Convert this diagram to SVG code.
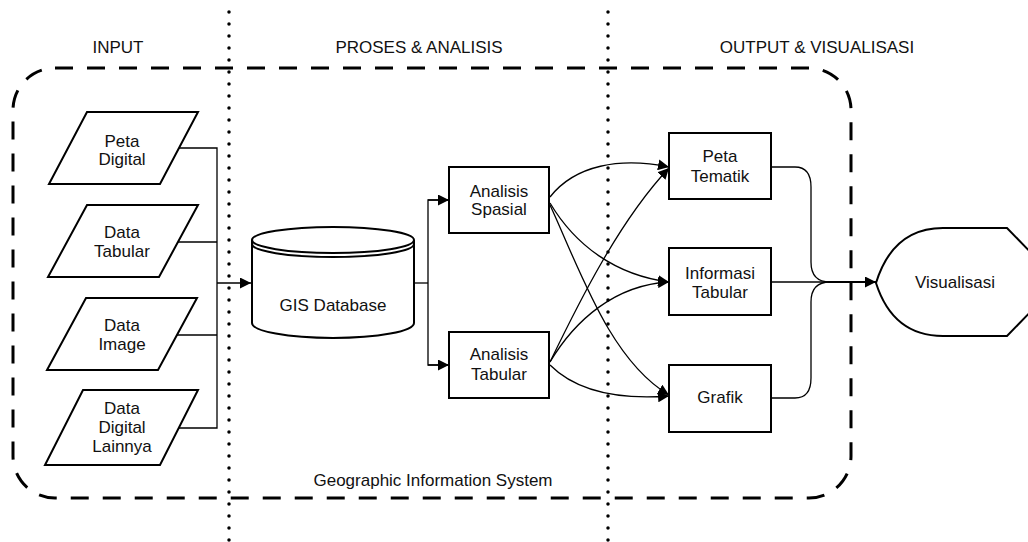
<svg xmlns="http://www.w3.org/2000/svg" width="1028" height="542" viewBox="0 0 1028 542">
<style>
text{font-family:"Liberation Sans",Arial,sans-serif;font-size:17px;fill:#111;text-anchor:middle}
.shape{fill:#fff;stroke:#000;stroke-width:2}
.conn{fill:none;stroke:#000;stroke-width:1.3}
.dots{stroke:#000;stroke-width:3.5;stroke-linecap:round;stroke-dasharray:0 12}
.dash{fill:none;stroke:#000;stroke-width:3;stroke-dasharray:18 14}
</style>
<defs>
<marker id="arr" viewBox="0 0 10 10" refX="10" refY="5" markerWidth="11" markerHeight="11" markerUnits="userSpaceOnUse" orient="auto">
<path d="M0,0 L10,5 L0,10 Z" fill="#000"/>
</marker>
</defs>
<rect fill="#fff" x="0" y="0" width="1028" height="542"/>
<g id="frame">
<rect class="dash" x="13" y="68" width="838" height="430" rx="42" ry="42"/>
<line class="dots" x1="229" y1="12" x2="229" y2="542"/>
<line class="dots" x1="608" y1="12" x2="608" y2="542"/>
<text x="118" y="53">INPUT</text>
<text x="419" y="53">PROSES &amp; ANALISIS</text>
<text x="817" y="53">OUTPUT &amp; VISUALISASI</text>
<text x="433" y="486">Geographic Information System</text>
</g>
<g id="connectors">
<polyline class="conn" points="179,148 217,148 217,428 179,428"/>
<line class="conn" x1="176" y1="242" x2="217" y2="242"/>
<line class="conn" x1="175" y1="335" x2="217" y2="335"/>
<line class="conn" x1="217" y1="283" x2="251" y2="283" marker-end="url(#arr)"/>
<polyline class="conn" points="414,283 428,283"/>
<polyline class="conn" points="448,200 428,200 428,365 448,365"/>
<line class="conn" x1="428" y1="200" x2="449" y2="200" marker-end="url(#arr)"/>
<line class="conn" x1="428" y1="365" x2="449" y2="365" marker-end="url(#arr)"/>
<path class="conn" d="M550,197 C575,165 620,157 669,167" marker-end="url(#arr)"/>
<path class="conn" d="M550,203 C575,245 615,275 669,282" marker-end="url(#arr)"/>
<path class="conn" d="M550,205 C580,270 610,360 669,395" marker-end="url(#arr)"/>
<path class="conn" d="M550,362 C580,300 620,220 669,168" marker-end="url(#arr)"/>
<path class="conn" d="M550,362 C575,320 615,285 669,282" marker-end="url(#arr)"/>
<path class="conn" d="M550,365 C575,390 615,400 669,396" marker-end="url(#arr)"/>
<path class="conn" d="M771,167 L795,167 Q811,167 811,187 L811,262 Q811,282 830,282"/>
<path class="conn" d="M771,398 L795,398 Q811,398 811,378 L811,302 Q811,282 830,282"/>
<line class="conn" x1="771" y1="282" x2="832" y2="282"/>
<line x1="828" y1="282" x2="876" y2="282" stroke="#000" stroke-width="2.2" marker-end="url(#arr)"/>
</g>
<g id="peta-digital">
<polygon class="shape" points="87,112 198,112 160,184 49,184"/>
<text x="122" y="147">Peta</text>
<text x="122" y="165">Digital</text>
</g>
<g id="data-tabular">
<polygon class="shape" points="87,205 198,205 159,277 48,277"/>
<text x="122" y="238">Data</text>
<text x="122" y="257">Tabular</text>
</g>
<g id="data-image">
<polygon class="shape" points="86,298 197,298 158,370 47,370"/>
<text x="122" y="331">Data</text>
<text x="122" y="350">Image</text>
</g>
<g id="data-digital-lainnya">
<polygon class="shape" points="83,390 198,390 160,465 45,465"/>
<text x="122" y="414">Data</text>
<text x="122" y="433">Digital</text>
<text x="122" y="452">Lainnya</text>
</g>
<g id="gis-database">
<path class="shape" d="M252,240 L252,323 A81,15 0 0 0 414,323 L414,240"/>
<ellipse class="shape" cx="333" cy="240" rx="81" ry="13"/>
<path class="conn" style="stroke-width:2" d="M252,244 A81,13 0 0 0 414,244"/>
<text x="333" y="311">GIS Database</text>
</g>
<g id="analisis-spasial">
<rect class="shape" x="449" y="167" width="100" height="66"/>
<text x="499" y="197">Analisis</text>
<text x="499" y="215">Spasial</text>
</g>
<g id="analisis-tabular">
<rect class="shape" x="449" y="332" width="100" height="66"/>
<text x="499" y="360">Analisis</text>
<text x="499" y="380">Tabular</text>
</g>
<g id="peta-tematik">
<rect class="shape" x="669" y="133" width="102" height="66"/>
<text x="720" y="162">Peta</text>
<text x="720" y="182">Tematik</text>
</g>
<g id="informasi-tabular">
<rect class="shape" x="669" y="248" width="102" height="67"/>
<text x="720" y="279">Informasi</text>
<text x="720" y="298">Tabular</text>
</g>
<g id="grafik">
<rect class="shape" x="669" y="365" width="102" height="67"/>
<text x="720" y="403">Grafik</text>
</g>
<g id="visualisasi">
<path class="shape" d="M876,283 Q893,228 943,228 L1007,228 L1040,262 L1040,302 L1007,336 L943,336 Q893,336 876,283 Z"/>
<text x="955" y="288">Visualisasi</text>
</g>
</svg>
